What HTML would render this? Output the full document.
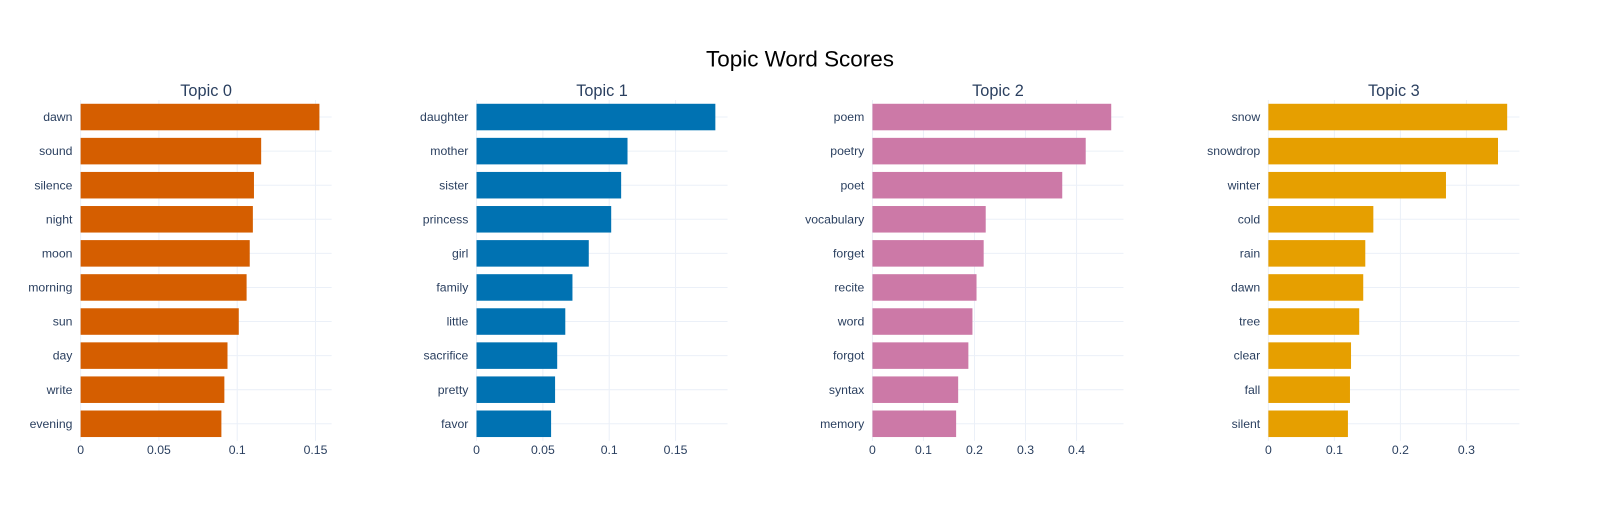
<!DOCTYPE html>
<html><head><meta charset="utf-8"><style>
body{margin:0;background:#fff;}
svg{display:block;font-family:"Liberation Sans",Arial,sans-serif;}
</style></head><body>
<svg id="chart" width="1600" height="520" viewBox="0 0 1568 509.6">
<text x="784" y="65" text-anchor="middle" font-size="22" fill="#000">Topic Word Scores</text>
</svg>
<script>
const topicTitles = ["Topic 0","Topic 1","Topic 2","Topic 3"];
const words0 = ["dawn","sound","silence","night","moon","morning","sun","day","write","evening"];
const scores0 = [0.1525,0.1153,0.1107,0.110,0.108,0.106,0.101,0.0938,0.0918,0.0899];
const words1 = ["daughter","mother","sister","princess","girl","family","little","sacrifice","pretty","favor"];
const scores1 = [0.180,0.1138,0.109,0.1015,0.0846,0.0723,0.0669,0.0608,0.0592,0.0562];
const words2 = ["poem","poetry","poet","vocabulary","forget","recite","word","forgot","syntax","memory"];
const scores2 = [0.468,0.418,0.372,0.222,0.218,0.204,0.196,0.188,0.168,0.164];
const words3 = ["snow","snowdrop","winter","cold","rain","dawn","tree","clear","fall","silent"];
const scores3 = [0.3617,0.3478,0.269,0.159,0.1468,0.1437,0.1376,0.1252,0.1236,0.1205];
const ticks0 = [0,0.05,0.1,0.15];
const ticks1 = [0,0.05,0.1,0.15];
const ticks2 = [0,0.1,0.2,0.3,0.4];
const ticks3 = [0,0.1,0.2,0.3];
const xMax = [0.1603,0.1892,0.492,0.3802];

const panels = [[words0,scores0,ticks0],[words1,scores1,ticks1],[words2,scores2,ticks2],[words3,scores3,ticks3]];
const colors = ["#D55E00","#0072B2","#CC79A7","#E69F00"];
const ns = "http://www.w3.org/2000/svg";
const svg = document.getElementById('chart');
const x0s = [79,467,855,1243], W = 246, yTop = 98, yBot = 432;
function mk(tag, attrs, parent){const e=document.createElementNS(ns,tag);for(const k in attrs)e.setAttribute(k,attrs[k]);(parent||svg).appendChild(e);return e;}
panels.forEach((p,i)=>{
  const [words,scores,ticks]=p;
  const g=mk('g',{});
  
  
  const xs=v=>x0s[i]+v/xMax[i]*W;
  const band=(yBot-yTop)/words.length;
  const ys=k=>yTop+band*(k+0.5);
  ticks.forEach(t=>{
    const l=mk('line',{x1:xs(t),x2:xs(t),y1:yTop,y2:yBot,stroke:'#ebf0f8','stroke-width':1},g);
    
    
    const tx=mk('text',{x:xs(t),y:yBot+13,'text-anchor':'middle','font-size':12,fill:'#2a3f5f'},g);
    tx.textContent=String(t);
    
    
  });
  words.forEach((w,k)=>{
    const l=mk('line',{x1:x0s[i],x2:x0s[i]+W,y1:ys(k),y2:ys(k),stroke:'#ebf0f8','stroke-width':1},g);
    
    
  });
  words.forEach((w,k)=>{
    const r=mk('rect',{x:xs(0),y:ys(k)-13,width:xs(scores[k])-xs(0),height:26,fill:colors[i]},g);
    
    
    const tx=mk('text',{x:x0s[i]-8,y:ys(k)+4,'text-anchor':'end','font-size':12,fill:'#2a3f5f'},g);
    tx.textContent=w;
    
    
  });
  const st=mk('text',{x:x0s[i]+W/2,y:94,'text-anchor':'middle','font-size':16,fill:'#2a3f5f'},g);
  st.textContent=topicTitles[i];
  
  
});
</script>
</body></html>
